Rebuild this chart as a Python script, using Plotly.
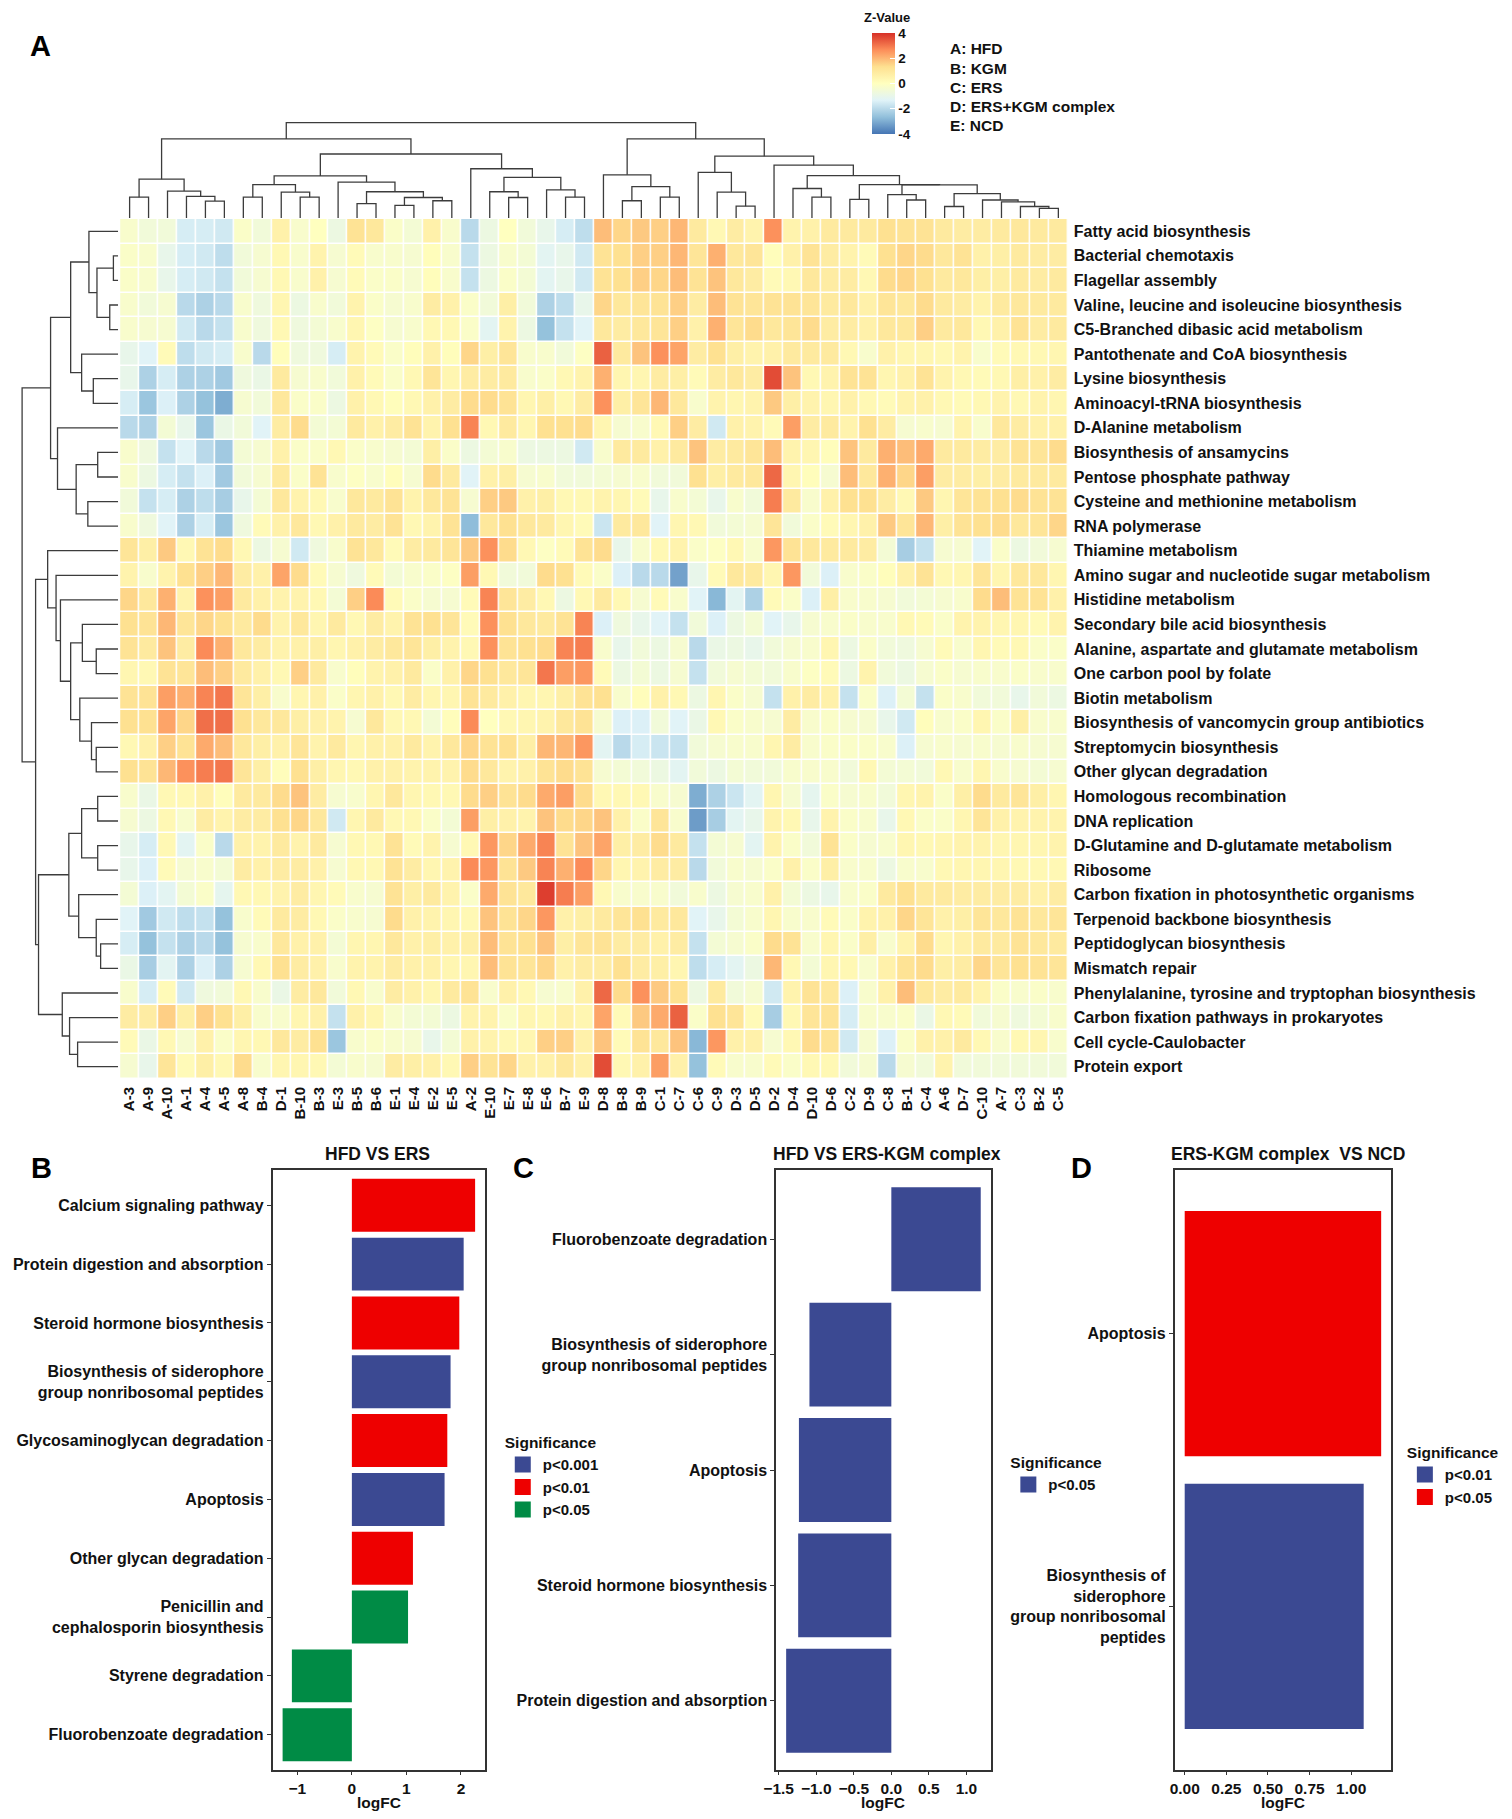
import plotly.graph_objects as go

# the page body keeps its default 8px margin, so the figure is drawn 16px smaller
OFF = 8
W, H = 1512 - 2 * OFF, 1819 - 2 * OFF
FONT = "Liberation Sans, Arial, sans-serif"

# ---------------- panel A: heatmap data ----------------
col_labels = ["A-3", "A-9", "A-10", "A-1", "A-4", "A-5", "A-8", "B-4", "D-1", "B-10",
              "B-3", "E-3", "B-5", "B-6", "E-1", "E-4", "E-2", "E-5", "A-2", "E-10",
              "E-7", "E-8", "E-6", "B-7", "E-9", "D-8", "B-8", "B-9", "C-1", "C-7",
              "C-6", "C-9", "D-3", "D-5", "D-2", "D-4", "D-10", "D-6", "C-2", "D-9",
              "C-8", "B-1", "C-4", "A-6", "D-7", "C-10", "A-7", "C-3", "B-2", "C-5"]

row_labels = ["Fatty acid biosynthesis", "Bacterial chemotaxis", "Flagellar assembly",
              "Valine, leucine and isoleucine biosynthesis", "C5-Branched dibasic acid metabolism",
              "Pantothenate and CoA biosynthesis", "Lysine biosynthesis", "Aminoacyl-tRNA biosynthesis",
              "D-Alanine metabolism", "Biosynthesis of ansamycins", "Pentose phosphate pathway",
              "Cysteine and methionine metabolism", "RNA polymerase", "Thiamine metabolism",
              "Amino sugar and nucleotide sugar metabolism", "Histidine metabolism",
              "Secondary bile acid biosynthesis", "Alanine, aspartate and glutamate metabolism",
              "One carbon pool by folate", "Biotin metabolism",
              "Biosynthesis of vancomycin group antibiotics", "Streptomycin biosynthesis",
              "Other glycan degradation", "Homologous recombination", "DNA replication",
              "D-Glutamine and D-glutamate metabolism", "Ribosome",
              "Carbon fixation in photosynthetic organisms", "Terpenoid backbone biosynthesis",
              "Peptidoglycan biosynthesis", "Mismatch repair",
              "Phenylalanine, tyrosine and tryptophan biosynthesis",
              "Carbon fixation pathways in prokaryotes", "Cell cycle-Caulobacter", "Protein export"]

# z-values, one row per pathway (columns in col_labels order)
z_values = [
    [-0.3, -0.6, -0.6, -1.5, -1.5, -1.6, -0.2, -0.6, 0.6, -0.3, 0.0, -0.8, 1.2, 1.0, -0.2, -0.5, 0.6, -0.3, -2.0, -0.8, 0.0, -0.6, -1.0, -1.5, -1.9,
     1.9, 1.5, 1.7, 1.6, 2.0, 0.9, 0.3, 0.8, 0.5, 2.6, 0.5, 0.6, 0.9, 0.9, 0.9, 1.3, 1.2, 1.2, 0.9, 0.8, 0.8, 0.9, 1.0, 0.9, 0.9],
    [-0.2, -0.3, -1.0, -1.5, -1.6, -1.9, -0.6, -0.4, 0.3, -0.3, 0.5, -0.4, 0.2, -0.3, -0.3, -0.4, 0.1, -0.3, -1.8, -0.8, -0.3, -0.5, -1.2, -1.0, -1.6,
     1.2, 1.3, 1.6, 1.6, 2.0, 1.1, 2.1, 1.0, 1.1, 0.1, 0.6, 1.2, 0.8, 0.5, 0.2, 1.3, 1.5, 1.4, 1.0, 1.2, 0.6, 0.7, 0.9, 0.8, 0.8],
    [-0.2, -0.3, -1.0, -1.5, -1.6, -1.8, -0.6, -0.4, 0.3, -0.3, 0.6, -0.4, 0.2, -0.2, -0.2, -0.4, 0.1, -0.3, -1.8, -0.8, -0.2, -0.5, -1.2, -1.0, -1.6,
     1.2, 1.3, 1.6, 1.5, 1.9, 1.2, 1.8, 1.0, 0.8, 0.2, 0.3, 1.0, 0.8, 0.8, 0.3, 1.4, 1.5, 1.3, 0.9, 1.0, 0.7, 0.7, 0.9, 0.8, 0.9],
    [-0.3, -0.6, -0.4, -2.0, -2.2, -2.0, -0.3, -0.7, 0.4, -0.8, -0.3, -0.6, 0.5, -0.2, -0.4, -0.3, 0.8, 0.6, -0.2, -0.6, 0.7, -0.6, -2.2, -1.9, -1.0,
     1.5, 1.0, 1.1, 1.2, 1.6, 0.8, 1.9, 1.2, 1.1, 1.2, 1.2, 1.1, 0.9, 1.0, 0.6, 1.1, 1.0, 1.4, 0.9, 0.8, 0.5, 0.9, 1.0, 0.9, 0.9],
    [-0.3, -0.4, -0.4, -1.6, -2.0, -1.8, -0.3, -0.7, 0.3, -0.7, -0.5, -0.3, 0.4, -0.1, -0.4, -0.3, 0.3, 0.3, -0.2, -1.2, 0.5, -0.8, -2.6, -1.8, -1.3,
     1.0, 0.8, 1.0, 1.1, 1.6, 0.6, 2.1, 1.1, 1.4, 1.0, 1.1, 1.4, 0.8, 0.8, 0.6, 1.0, 1.0, 1.6, 0.9, 1.0, 0.3, 0.6, 1.2, 0.8, 0.9],
    [-1.0, -1.3, 0.2, -1.9, -1.6, -1.5, -0.3, -2.0, 0.1, -0.7, -0.7, -1.5, 0.5, 0.2, -0.2, 0.1, 0.6, 0.1, 1.5, 0.7, 1.1, -0.3, -0.3, -0.6, -0.1,
     3.3, 0.9, 1.8, 2.6, 2.3, 0.8, 1.3, 0.7, 0.5, 0.6, 0.9, 0.9, 0.9, 0.3, -0.3, 0.6, 0.4, 0.4, 0.3, 0.5, -0.3, 0.2, 0.3, 0.3, 0.4],
    [-1.0, -2.2, -1.5, -2.2, -2.2, -2.4, -0.7, -0.9, 0.9, -0.4, -0.3, -0.6, 0.6, 0.2, -0.2, 0.3, 1.1, 0.4, 0.8, 0.8, 0.9, -0.3, -0.2, 0.3, 0.5,
     2.1, 0.4, 0.4, 0.8, 0.7, 0.2, 0.8, 1.0, 0.8, 3.6, 1.8, 0.3, 0.5, 1.2, 1.2, 0.4, 0.6, 1.2, 0.5, 0.3, 0.2, 0.3, 0.7, 0.6, 0.8],
    [-1.5, -2.5, -1.4, -2.2, -2.6, -3.0, -0.4, -0.6, 1.0, -0.2, -0.2, -0.8, 0.6, 0.3, 0.1, 0.3, 0.6, 0.8, 1.4, 1.4, 1.2, 0.4, 0.7, 0.3, 0.8,
     2.6, 0.7, 1.1, 2.0, 1.0, -0.3, 0.5, 0.4, 0.5, 1.7, 0.7, 0.5, 0.4, 0.6, 0.3, 0.2, 0.5, 0.6, 0.3, 0.2, 0.3, 0.5, 0.3, 0.5, 0.4],
    [-2.0, -2.2, -0.5, -1.0, -2.5, -0.9, -0.6, -1.3, 0.8, 1.4, -0.5, -0.5, 0.9, 0.6, 0.8, 1.2, 0.5, 1.3, 2.8, 0.3, 0.9, 0.4, 1.3, 1.3, 1.4,
     0.4, -0.4, -0.3, 0.3, 1.6, 0.8, -1.6, 0.6, 0.5, 0.2, 2.4, 0.8, 0.9, 0.5, 1.3, 0.8, -0.4, -0.3, -0.4, 0.5, -0.3, 1.0, 0.8, 0.6, 0.6],
    [-0.3, -0.7, -1.8, -1.3, -2.0, -2.4, -0.5, -0.4, 0.6, -0.2, -0.2, 0.3, -0.2, -0.3, -0.4, -0.5, 0.7, -0.2, -0.8, -0.5, -0.3, -0.8, -0.8, -0.8, -1.6,
     -0.3, 0.9, 0.9, 0.6, 0.9, 1.8, 0.8, 0.9, 1.1, 1.9, 0.5, 0.4, 0.1, 1.8, 0.9, 2.1, 1.9, 2.2, 0.9, 0.9, 0.8, 0.8, 1.2, 1.1, 1.4],
    [-0.3, -0.8, -1.5, -1.8, -1.4, -2.4, -0.6, -0.4, 0.9, -0.2, 1.2, -0.3, -0.1, -0.3, 0.1, -0.4, 1.4, 0.9, -1.3, 0.6, 0.7, -0.4, -0.3, -0.6, -0.6,
     -0.5, -0.4, -0.3, -0.6, -0.6, 1.3, 0.7, 0.9, 1.0, 3.2, 0.4, 0.1, -0.4, 1.9, 1.0, 2.1, 1.5, 2.4, 0.8, 0.8, 0.7, 0.8, 0.9, 0.9, 0.9],
    [-0.6, -1.8, -1.5, -2.2, -1.9, -2.3, -1.0, -0.5, 1.0, 0.5, 0.3, -0.3, 1.0, 0.9, 1.2, 0.5, 1.0, 1.2, -0.4, 1.6, 1.7, 0.6, 0.7, 0.3, 0.3,
     0.5, 0.4, 0.2, -1.0, -0.3, -0.5, -1.0, -0.3, -0.6, 2.9, 0.9, -0.3, 0.6, 1.3, 1.3, 0.8, 0.3, 1.7, 0.4, 1.1, 1.2, 1.3, 1.4, 1.2, 1.2],
    [-0.3, -0.7, -1.3, -2.2, -1.5, -2.5, -0.7, 0.2, 0.6, 1.0, 0.3, 0.6, 0.9, 0.8, 1.2, 0.3, 0.5, 1.2, -2.7, 1.0, 1.3, 1.0, 0.9, 0.4, 0.2,
     -1.7, 0.9, 1.0, -1.3, 0.4, 0.3, -0.6, -0.5, -0.4, 1.1, -0.6, -0.2, 0.2, 0.4, 0.6, 1.7, 1.1, 2.0, 0.7, 1.2, 1.3, 1.4, 1.0, 1.1, 1.5],
    [1.1, 0.7, 1.7, 0.3, 1.2, 1.4, 0.3, -0.8, -0.4, -1.6, -0.7, -0.3, 1.2, 1.0, 0.2, 0.8, 0.9, 1.1, 1.7, 2.6, 1.4, 0.3, -0.1, 0.2, 1.2,
     1.4, -1.0, -0.3, 0.3, 0.5, -0.2, -0.1, 0.3, -0.3, 2.5, 1.2, 1.0, 0.9, 0.9, 0.8, -0.5, -2.3, -1.8, -0.4, -0.4, -1.3, -0.2, -0.8, -0.6, -0.4],
    [0.5, -0.3, 0.5, 1.3, 1.6, 2.0, 0.8, 0.6, 2.3, 1.4, 0.2, -0.4, -0.7, 0.2, -0.5, -0.3, -0.2, -0.1, 2.4, 0.3, -0.6, -0.6, 1.4, 1.3, 0.2,
     -0.2, -1.4, -2.0, -2.0, -3.2, -1.0, 0.2, 1.0, 0.9, 0.4, 2.5, -0.6, -1.4, -0.3, -0.2, 0.1, 0.6, 1.2, 0.3, 0.4, 1.1, 0.4, 1.0, 1.0, 0.4],
    [1.5, 1.0, 2.1, 0.5, 2.6, 2.4, 0.9, 0.6, 0.5, 0.5, 0.3, -0.5, 1.6, 2.7, 0.2, -0.2, -0.4, -0.4, 0.2, 2.8, 1.1, 0.8, 0.3, -0.8, 0.3,
     0.9, 0.3, -0.4, 0.2, -0.3, -1.3, -2.8, -1.2, -2.2, 0.2, -0.2, -1.4, 0.7, -0.3, -0.3, -0.4, -0.6, -0.5, -0.4, -0.3, 1.4, 1.9, 1.2, 1.2, 0.6],
    [1.3, 1.2, 2.0, 1.1, 1.5, 1.3, 0.9, 1.4, 0.5, 1.0, 0.4, 0.9, 0.3, 0.8, 0.5, 1.2, 1.3, 1.1, 0.2, 2.6, 1.3, 1.0, 0.9, 1.2, 2.8,
     -1.4, -0.7, -1.0, -1.3, -1.8, -0.6, -1.4, -0.8, -0.5, -1.3, -1.0, -0.4, -0.3, -0.2, -0.3, -0.3, 0.3, 0.2, -0.2, 0.5, 0.5, 0.4, 0.4, 0.2, 0.5],
    [1.2, 0.9, 1.8, 0.8, 2.7, 2.1, 1.0, 0.8, 0.5, 0.6, 0.7, 0.4, 0.6, 0.8, 1.0, 1.1, 0.7, 0.5, 0.3, 2.6, 1.2, 1.3, 1.4, 2.8, 2.9,
     -0.3, -1.0, -0.6, -0.8, -0.4, -2.0, -0.9, -0.8, -1.0, -0.6, -0.4, -0.3, 0.4, -0.8, -0.2, -0.6, -0.7, -0.4, 0.2, -0.3, 0.4, 0.2, 0.3, -0.2, -0.2],
    [0.4, 0.3, 1.2, 1.1, 1.9, 1.6, 0.9, 0.6, 0.3, 1.6, 0.9, -0.3, 0.1, 0.5, 0.6, 0.9, -0.2, 0.6, 1.5, 1.3, 1.0, 1.1, 3.0, 2.4, 2.5,
     0.2, -0.8, -0.5, -0.8, -0.4, -1.8, -0.6, -0.4, -0.5, -0.6, -0.3, -0.1, 0.2, -0.8, 0.5, -0.6, -0.8, -0.4, -0.2, -0.4, -0.3, -0.3, -0.2, -0.3, -0.3],
    [1.2, 1.2, 2.4, 2.1, 2.8, 3.0, 1.1, 0.7, -0.3, 0.4, 0.6, -0.2, 0.4, 0.6, 0.3, 0.8, 0.4, 0.4, 1.2, 0.9, 0.6, 0.4, 0.4, 0.7, 1.2,
     1.3, -0.3, 0.1, 0.6, 0.3, -0.8, 0.4, -0.2, -0.4, -1.8, 0.6, 0.8, 0.6, -1.8, -0.2, -1.4, -0.5, -1.8, -0.2, -0.3, -0.6, -0.6, -1.0, -0.6, -0.8],
    [1.3, 1.3, 2.3, 1.5, 3.1, 3.1, 1.3, 1.0, 1.0, 0.7, 0.6, 0.5, -0.4, 1.0, 0.3, 0.3, -0.5, 0.1, 2.7, 0.0, 0.3, 0.4, 0.5, 1.0, 1.2,
     -0.4, -1.4, -1.4, -0.6, -1.3, -0.9, 0.3, -0.2, -0.3, -0.4, 0.8, -0.3, -0.2, -0.4, -0.4, -1.0, -1.6, 0.1, -0.3, -0.2, 0.4, -0.2, 0.7, -0.3, -0.3],
    [0.3, 0.6, 1.6, 1.2, 2.2, 1.9, 1.0, 0.7, 0.6, 1.1, 0.5, 0.9, 0.4, 0.6, 0.6, 0.9, 0.5, 1.0, 1.5, 1.2, 1.3, 0.7, 2.0, 2.0, 2.5,
     -1.2, -2.0, -1.5, -1.7, -1.8, -0.6, -0.4, -0.3, -0.3, 0.4, 0.8, -0.3, -0.2, -0.2, -0.2, -0.3, -1.4, -0.4, -0.3, -0.4, -0.3, -0.4, -0.3, -0.4, -0.4],
    [1.3, 1.2, 2.0, 2.6, 2.9, 3.0, 1.1, 0.7, 0.1, 1.3, 0.7, 0.4, 0.3, 0.6, 0.6, 0.5, 0.5, 0.5, 1.4, 1.0, 0.5, 0.6, 1.2, 1.4, 1.2,
     -0.4, -0.5, -0.6, -0.8, -1.2, -0.6, -0.8, -0.5, -0.6, -0.6, -0.3, -0.3, -0.3, -0.6, 0.3, -0.5, -0.5, -0.6, 0.3, -0.3, 0.4, -0.3, -0.4, -0.5, -0.4],
    [-0.3, -0.9, 0.3, 0.3, 0.6, 0.1, 0.9, 0.9, 1.4, 1.8, 0.8, -0.4, -0.3, 0.4, 1.0, 0.4, 0.3, 0.3, 1.4, 1.6, 1.2, 1.4, 2.2, 2.4, 1.4,
     0.3, 0.3, 0.3, -0.3, -0.4, -3.0, -2.2, -1.7, -1.2, 0.4, -0.4, -1.1, -0.2, -0.4, -0.3, -0.6, 0.4, 0.5, -0.2, 0.7, 1.4, 0.9, 1.1, 0.7, 0.4],
    [-0.4, -0.8, 0.3, -0.3, 0.8, 0.5, 0.8, 0.8, 1.3, 1.5, 1.0, -1.6, 0.4, 0.9, 0.3, 0.3, -0.2, -0.5, 2.4, 0.7, 0.6, 0.5, 1.8, 1.4, 1.5,
     1.8, 0.6, -0.2, 1.1, -0.3, -3.3, -2.3, -1.2, -1.0, 0.5, 0.3, -1.0, 0.5, -0.2, -0.3, -1.0, 0.3, -0.2, -0.2, 0.4, 1.1, 0.6, 0.5, 0.5, 0.5],
    [-1.0, -1.5, 0.3, -1.2, -0.2, -2.0, 0.6, 0.5, 0.9, 0.5, 0.9, -0.4, 0.3, 0.3, 1.2, 0.2, 0.5, -0.4, 0.3, 2.5, 1.5, 2.2, 2.8, 1.2, 1.8,
     2.3, 0.7, 0.8, 1.4, 0.9, -1.8, -0.5, -0.4, -1.2, 0.5, -0.2, -0.6, 1.2, -0.2, -0.4, -0.3, 0.4, 0.3, 0.4, 0.5, 0.5, 0.4, 0.4, 0.4, 0.5],
    [-1.0, -1.4, 0.2, -0.4, -0.3, -0.5, 0.8, 0.6, 0.8, 0.8, 0.6, -0.4, 0.3, 0.3, 1.2, 0.8, 0.4, 0.5, 2.7, 2.5, 1.2, 1.7, 2.8, 2.1, 2.7,
     1.5, 0.4, 0.5, 0.8, 0.8, -2.0, -0.6, -0.3, -0.4, -0.2, 0.6, -0.2, 0.7, -0.3, -0.3, -0.8, -0.3, -0.3, 0.3, 0.4, 0.4, 0.4, 0.3, 0.3, 0.3],
    [-0.5, -1.4, -1.2, -0.5, -0.2, -1.1, 0.3, 0.3, 0.5, 0.8, 0.4, 0.2, -0.3, -0.4, 1.2, 0.7, 0.9, 0.5, -0.2, 2.2, 1.2, 1.0, 3.8, 2.9, 2.4,
     0.3, -0.3, -0.3, -0.3, -0.6, -0.3, -0.8, -0.4, -0.3, 0.6, -0.5, -0.8, -1.0, -0.3, -0.2, 0.9, 1.3, 0.9, 0.9, 0.8, 0.8, 0.8, 0.8, 0.6, 0.8],
    [-1.3, -2.4, -1.6, -1.9, -1.8, -2.6, -0.3, 0.2, 0.9, 0.8, 0.3, -0.2, -0.3, -0.4, 1.4, 0.6, 0.5, 0.4, 0.3, 1.8, 1.2, 1.5, 2.5, 0.6, 0.7,
     0.9, 1.1, 1.3, 0.9, 1.0, -1.3, -1.0, -0.5, -0.3, 0.4, -0.3, -0.3, 0.2, -0.2, 0.5, 0.6, 1.5, 1.1, 0.6, 0.7, 1.1, 1.0, 1.2, 1.0, 1.1],
    [-1.5, -2.6, -1.8, -2.2, -2.0, -2.6, -0.4, -0.3, 1.0, 0.6, 0.6, -0.5, 0.4, 0.4, 1.0, 0.6, 0.7, 0.6, 0.7, 1.9, 1.2, 1.3, 1.8, 0.7, 1.1,
     1.2, 0.8, 0.8, 0.6, 0.8, -1.8, -0.5, -0.4, -0.2, 1.4, 1.2, -0.3, 0.4, -0.2, 0.7, -0.3, 0.5, 1.4, 0.4, 0.6, 0.9, 0.9, 1.2, 1.0, 0.9],
    [-0.9, -2.3, -1.2, -2.2, -1.4, -2.2, -0.4, 0.3, 1.3, 0.8, 0.6, -0.3, 0.5, 0.5, 0.8, 0.6, 0.6, 0.4, 0.4, 1.9, 1.2, 1.1, 1.5, 0.6, 0.8,
     0.8, 1.3, 0.8, 0.7, 0.4, -1.9, -1.5, -1.2, -0.8, 2.0, 0.3, -0.5, 0.4, 0.3, -0.3, 0.6, 1.2, 1.4, 0.7, 0.8, 1.5, 1.1, 1.3, 1.2, 1.1],
    [-0.3, -1.5, 0.2, -1.6, -0.7, -0.6, 0.3, -0.3, -0.9, 0.8, 1.0, -0.6, 0.3, -0.3, 0.8, 0.6, 0.4, 0.9, 1.2, -0.3, 0.6, 0.3, -0.4, -0.3, 0.6,
     3.2, 1.4, 2.6, 1.7, 1.3, -0.8, 0.9, -0.6, -0.4, -1.6, 0.5, 1.2, 1.0, -1.4, -0.3, 0.6, 1.9, 1.0, 0.8, 0.9, 0.5, -0.2, -0.3, -0.2, -0.3],
    [0.8, 0.8, 1.6, 0.7, 1.6, 1.3, 0.7, -0.3, -0.3, 0.4, 0.6, -1.8, 0.6, 0.4, -0.3, -0.5, -0.5, -0.8, 0.5, 0.5, -0.2, 0.4, 0.3, 0.6, 0.4,
     2.3, 0.2, 1.7, 2.2, 3.3, -0.2, 1.3, 1.1, 0.2, -2.3, 0.3, 1.1, 1.2, -1.5, -0.3, -0.3, -0.2, -0.9, 0.3, 0.2, -0.6, -0.4, -0.7, -0.5, -0.3],
    [0.2, -0.9, 0.3, -0.4, 0.6, -0.2, 0.4, 0.3, 1.0, 0.8, 1.3, -2.5, -0.3, -0.2, -0.3, -0.4, -1.0, -0.5, 0.6, 0.5, 0.3, 0.4, 1.6, 1.6, 0.6,
     1.8, 0.2, 1.2, 1.0, 1.8, -2.8, 2.5, 0.6, 0.6, -0.4, 0.3, 1.4, 1.2, -1.6, -0.4, -1.4, -0.2, 0.6, 0.6, 0.9, 0.3, -0.3, 0.3, 0.4, -0.3],
    [-0.4, -1.0, 1.1, 0.2, 0.7, 0.3, 1.4, -0.3, 0.4, 0.4, 0.3, -0.5, -0.3, -0.4, 0.8, 0.7, 0.6, 0.3, 1.6, 1.2, 1.5, 0.6, 0.6, 1.0, 0.6,
     3.6, 0.3, 0.6, 2.4, 0.6, -2.6, 0.2, -0.3, -0.3, 0.2, -0.2, 0.3, 0.3, -0.6, -0.4, -2.0, -0.4, -0.6, 0.5, -0.6, -0.6, -0.6, -0.6, -0.6, -0.6],
]

# dendrogram merges: (left, right, height); ints are 1-based leaf numbers
col_tree = (
    (((1, 2, 58), (3, (4, (5, 6, 47), 60), 75), 108),
     ((((7, 8, 58), (9, (10, 11, 58), 72), 93),
       (12, ((13, 14, 40), ((15, 16, 35), (17, 18, 48), 57), 73), 100), 117),
      (19, ((20, (21, 22, 57), 73), (23, (24, 25, 58), 78), 113), 137), 178), 220),
    ((26, ((27, 28, 48), (29, 30, 58), 87), 120),
     ((31, (32, (33, 34, 33), 72), 127),
      (35, ((36, (37, 38, 58), 82),
            ((39, 40, 52), ((41, (42, 43, 50), 65),
                            ((44, 45, 32), (46, (47, (48, (49, 50, 27), 32), 45), 50), 68), 92), 93), 118), 147), 172), 220),
    265)

row_tree = (
    (((1, ((2, 3, 13), (4, 5, 23), 58), 80), (6, (7, 8, 68), 100), 130),
     (9, ((10, 11, 56), (12, 13, 83), 115), 166), 185),
    ((14, (15, (16, ((17, (18, 19, 60), 98), (20, (21, (22, 23, 60), 73), 105), 130), 158), 170), 193),
     ((((24, 25, 56), (26, 27, 56), 100), (28, (29, (30, 31, 48), 60), 108), 135),
      (32, (33, (34, 35, 111), 133), 153), 218), 226),
    263)

group_keys = ["A: HFD", "B: KGM", "C: ERS", "D: ERS+KGM complex", "E: NCD"]

# ---------------- panels B-D ----------------
b_terms = ["Calcium signaling pathway", "Protein digestion and absorption", "Steroid hormone biosynthesis",
           "Biosynthesis of siderophore<br>group nonribosomal peptides", "Glycosaminoglycan degradation",
           "Apoptosis", "Other glycan degradation", "Penicillin and<br>cephalosporin biosynthesis",
           "Styrene degradation", "Fluorobenzoate degradation"]
b_logfc = [2.26, 2.05, 1.97, 1.81, 1.75, 1.70, 1.12, 1.03, -1.10, -1.27]
b_sig = ["p<0.01", "p<0.001", "p<0.01", "p<0.001", "p<0.01", "p<0.001", "p<0.01", "p<0.05", "p<0.05", "p<0.05"]
b_levels = ["p<0.001", "p<0.01", "p<0.05"]

c_terms = ["Fluorobenzoate degradation", "Biosynthesis of siderophore<br>group nonribosomal peptides",
           "Apoptosis", "Steroid hormone biosynthesis", "Protein digestion and absorption"]
c_logfc = [1.19, -1.09, -1.23, -1.24, -1.40]
c_sig = ["p<0.05"] * 5
c_levels = ["p<0.05"]

d_terms = ["Apoptosis", "Biosynthesis of<br>siderophore<br>group nonribosomal<br>peptides"]
d_logfc = [1.18, 1.075]
d_sig = ["p<0.05", "p<0.01"]
d_levels = ["p<0.01", "p<0.05"]

BLUE, RED, GREEN = "#3B4992", "#EE0000", "#008B45"
level_colors = {"B": [BLUE, RED, GREEN], "C": [BLUE], "D": [BLUE, RED]}


# positions below are given in window pixels; convert to paper fractions
def fx(p):
    return (p - OFF) / W


def fy(p):
    return 1 - (p - OFF) / H


def px_x(a, b):
    return [fx(a), fx(b)]


def px_y(top, bottom):
    return [fy(bottom), fy(top)]


def bold(s):
    return "<b>" + s + "</b>"


def dendro_lines(tree):
    pos, hts = [], []

    def walk(node):
        if isinstance(node, int):
            return node - 1, 0
        left, right, h = node
        cl, hl = walk(left)
        cr, hr = walk(right)
        pos.extend([cl, cl, cr, cr, None])
        hts.extend([hl, h, h, hr, None])
        return (cl + cr) / 2, h

    walk(tree)
    return pos, hts


fig = go.Figure()

# heatmap
fig.add_trace(go.Heatmap(
    z=z_values, x=list(range(len(col_labels))), y=list(range(len(row_labels))),
    zmin=-4, zmax=4, xgap=1.5, ygap=1.5,
    colorscale=[[0, "#4575B4"], [1 / 6, "#91BFDB"], [2 / 6, "#E0F3F8"], [0.5, "#FFFFBF"],
                [4 / 6, "#FEE090"], [5 / 6, "#FC8D59"], [1, "#D73027"]],
    colorbar=dict(x=fx(866), xanchor="left", y=fy(33), yanchor="top", xpad=0, ypad=0,
                  lenmode="pixels", len=101, thickness=23, outlinewidth=0,
                  tickvals=[-4, -2, 0, 2, 4], ticktext=[bold(t) for t in ["-4", "-2", "0", "2", "4"]],
                  ticks="inside", ticklen=5, tickcolor="white", tickfont=dict(size=13.5, color="#111")),
    hoverinfo="skip", xaxis="x", yaxis="y"))

cx, cy = dendro_lines(col_tree)
fig.add_trace(go.Scatter(x=cx, y=cy, mode="lines", line=dict(color="#3c3c3c", width=1.3),
                         hoverinfo="skip", showlegend=False, xaxis="x2", yaxis="y2"))
ry, rx = dendro_lines(row_tree)
fig.add_trace(go.Scatter(x=rx, y=ry, mode="lines", line=dict(color="#3c3c3c", width=1.3),
                         hoverinfo="skip", showlegend=False, xaxis="x3", yaxis="y3"))

# bar panels
panels = [("B", b_terms, b_logfc, b_sig, b_levels, "x4", "y4", "legend"),
          ("C", c_terms, c_logfc, c_sig, c_levels, "x5", "y5", "legend2"),
          ("D", d_terms, d_logfc, d_sig, d_levels, "x6", "y6", "legend3")]
for key, terms, vals, sigs, levels, xa, ya, lg in panels:
    for lev, colr in zip(levels, level_colors[key]):
        idx = [i for i, s in enumerate(sigs) if s == lev]
        fig.add_trace(go.Bar(
            x=[vals[i] for i in idx], y=[i for i in idx], orientation="h", width=0.9,
            marker=dict(color=colr, line=dict(width=0)), showlegend=False,
            xaxis=xa, yaxis=ya, hoverinfo="skip"))
        # legend key as a square marker, like the ggplot keys
        fig.add_trace(go.Scatter(
            x=[None], y=[None], mode="markers", name=bold(lev), legend=lg,
            marker=dict(symbol="square", size=17, color=colr),
            xaxis=xa, yaxis=ya, hoverinfo="skip"))

hm_x = px_x(108, 1064)
hm_y = px_y(219, 1079)

layout = dict(
    width=W, height=H, margin=dict(l=0, r=0, t=0, b=0),
    paper_bgcolor="white", plot_bgcolor="white", barmode="overlay",
    font=dict(family=FONT, color="#111"),
    xaxis=dict(domain=hm_x, anchor="y", range=[-0.5, len(col_labels) - 0.5],
               tickvals=list(range(len(col_labels))), ticktext=[bold(c) for c in col_labels],
               tickangle=-90, tickfont=dict(family=FONT, size=15, color="#111"),
               showgrid=False, zeroline=False, showline=False, ticks="", ticklabelstandoff=4),
    yaxis=dict(domain=hm_y, anchor="x", range=[len(row_labels) - 0.5, -0.5], side="right",
               tickvals=list(range(len(row_labels))), ticktext=[bold(r) for r in row_labels],
               tickfont=dict(family=FONT, size=16, color="#111"),
               showgrid=False, zeroline=False, showline=False, ticks="", ticklabelstandoff=5),
    xaxis2=dict(domain=hm_x, anchor="y2", range=[-0.5, len(col_labels) - 0.5], visible=False),
    yaxis2=dict(domain=px_y(122, 218), anchor="x2", range=[0, 267], visible=False),
    xaxis3=dict(domain=px_x(8, 106), anchor="y3", range=[266, 0], visible=False),
    yaxis3=dict(domain=hm_y, anchor="x3", range=[len(row_labels) - 0.5, -0.5], visible=False),
)

bar_axes = [
    ("xaxis4", "yaxis4", "x4", "y4", px_x(262, 476), b_terms, [-1.45, 2.44], [-1, 0, 1, 2], "{:.0f}"),
    ("xaxis5", "yaxis5", "x5", "y5", px_x(770, 986), c_terms, [-1.53, 1.32], [-1.5, -1.0, -0.5, 0, 0.5, 1.0], "{:.1f}"),
    ("xaxis6", "yaxis6", "x6", "y6", px_x(1172, 1390), d_terms, [-0.059, 1.239], [0, 0.25, 0.5, 0.75, 1.0, 1.25], "{:.2f}"),
]
for xk, yk, xa, ya, dom, terms, rng, ticks, fmt in bar_axes:
    n = len(terms)
    layout[xk] = dict(domain=dom, anchor=ya, range=rng, tickvals=ticks,
                      ticktext=[bold(fmt.format(t).replace("-", "\u2212")) for t in ticks],
                      tickfont=dict(family=FONT, size=15.5, color="#111"),
                      showgrid=False, zeroline=False, showline=True, mirror=True,
                      linecolor="#333", linewidth=2, ticks="outside", ticklen=3, tickcolor="#333")
    layout[yk] = dict(domain=px_y(1170, 1770), anchor=xa, range=[n - 0.4, -0.6],
                      tickvals=list(range(n)), ticktext=[bold(t) for t in terms],
                      tickfont=dict(family=FONT, size=16, color="#111"),
                      showgrid=False, zeroline=False, showline=True, mirror=True,
                      linecolor="#333", linewidth=2, ticks="outside", ticklen=4, tickcolor="#333")

legend_style = dict(xanchor="left", yanchor="top", bgcolor="rgba(0,0,0,0)", tracegroupgap=0,
                    font=dict(family=FONT, size=15, color="#111"), itemwidth=30,
                    title=dict(text=bold("Significance"), font=dict(family=FONT, size=15.5, color="#111")))
layout["legend"] = dict(x=fx(494), y=fy(1428), **legend_style)
layout["legend2"] = dict(x=fx(1004), y=fy(1448), **legend_style)
layout["legend3"] = dict(x=fx(1404), y=fy(1438), **legend_style)

fig.update_layout(**layout)

# annotations: panel letters, titles, axis titles, colour key title, group key
for letter, xp, yp in [("A", 28, 46), ("B", 29, 1168), ("C", 515, 1168), ("D", 1078, 1168)]:
    fig.add_annotation(x=fx(xp), y=fy(yp), xref="paper", yref="paper", text=bold(letter),
                       showarrow=False, xanchor="center", yanchor="middle",
                       font=dict(family=FONT, size=29, color="#000"))
for title, xc in [("HFD VS ERS", 368), ("HFD VS ERS-KGM complex", 882), ("ERS-KGM complex  VS NCD", 1286)]:
    fig.add_annotation(x=fx(xc), y=fy(1154), xref="paper", yref="paper", text=bold(title),
                       showarrow=False, xanchor="center", yanchor="middle",
                       font=dict(family=FONT, size=17.5, color="#111"))
for xc in [369, 878, 1281]:
    fig.add_annotation(x=fx(xc), y=fy(1802), xref="paper", yref="paper", text=bold("logFC"),
                       showarrow=False, xanchor="center", yanchor="middle",
                       font=dict(family=FONT, size=15.5, color="#111"))
fig.add_annotation(x=fx(882), y=fy(8), xref="paper", yref="paper", text=bold("Z-Value"),
                   showarrow=False, xanchor="center", yanchor="top",
                   font=dict(family=FONT, size=13, color="#111"))
for i, g in enumerate(group_keys):
    fig.add_annotation(x=fx(943), y=fy(49 + i * 19.2), xref="paper", yref="paper",
                       text=bold(g), showarrow=False, xanchor="left", yanchor="middle",
                       font=dict(family=FONT, size=15.5, color="#111"))

fig.write_html("out.html")
